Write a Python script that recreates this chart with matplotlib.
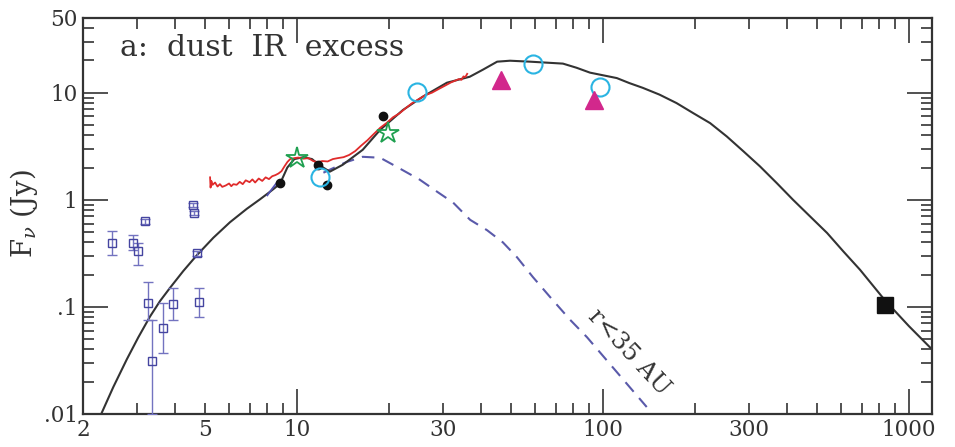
import numpy as np
import matplotlib
matplotlib.use('Agg')
import matplotlib.pyplot as plt
from matplotlib.ticker import LogLocator, FuncFormatter

plt.rcParams['font.family'] = ['DejaVu Serif']
plt.rcParams['mathtext.fontset'] = 'dejavuserif'

# model SED (black line)
model_wl = [2.2, 2.30, 2.51, 2.78, 3.03, 3.31, 3.57, 3.85, 4.25, 4.70, 5.33, 6.04, 6.85, 7.57,
            8.17, 8.8, 9.3, 9.8, 10.5, 11.2, 11.8, 12.8, 14.1, 16.4, 18.7, 22.2, 25.8, 30.9,
            36.7, 40.5, 45.1, 49.7, 57.7, 74, 82, 90.7, 111, 122, 135, 153, 174, 197, 224,
            254, 288, 326, 370, 418, 475, 540, 610, 692, 835, 1000, 1190]
model_fx = [0.0076, 0.0102, 0.0178, 0.0324, 0.0519, 0.0813, 0.1135, 0.151, 0.216, 0.302, 0.442,
            0.617, 0.822, 1.01, 1.19, 1.41, 2.0, 2.4, 2.5, 2.4, 2.12, 1.83, 2.12, 2.93, 4.5,
            6.9, 9.2, 12.4, 14.1, 16.4, 19.5, 19.9, 19.5, 18.7, 17.1, 15.4, 13.7, 12.3, 11.1,
            9.6, 8.0, 6.46, 5.2, 3.9, 2.83, 2.05, 1.43, 1.0, 0.70, 0.49, 0.33, 0.222, 0.115,
            0.066, 0.040]

# inner disk only model r<35 AU (dashed)
inner_wl = [12.2, 12.8, 14.5, 16.4, 18.7, 21.2, 25.2, 28.7, 32.4, 36.8, 41.8, 47.1, 52.4,
            59.0, 67.1, 78.0, 88.7, 139]
inner_fx = [1.79, 1.91, 2.25, 2.52, 2.47, 2.03, 1.54, 1.19, 0.94, 0.65, 0.52, 0.40, 0.29,
            0.19, 0.124, 0.076, 0.052, 0.0116]

# IRS spectrum (red)
irs_wl = [5.2, 5.22, 5.25, 5.3, 5.4, 5.5, 5.6, 5.7, 5.85, 6.0, 6.1, 6.2, 6.35, 6.5, 6.65,
          6.8, 7.0, 7.15, 7.3, 7.5, 7.7, 7.9, 8.1, 8.3, 8.5, 8.7, 8.9, 9.1, 9.3, 9.5, 9.8,
          10.1, 10.5, 10.9, 11.3, 11.7, 12.1, 12.6, 13.1, 13.6, 14.2, 14.8, 15.5, 16.2, 17.0,
          17.8, 18.7, 19.6, 20.6, 21.6, 22.7, 23.8, 25.0, 26.3, 27.6, 29.0, 30.4, 31.9, 33.0,
          33.8, 34.5, 35.0, 35.5, 36.0]
irs_fx = [1.62, 1.30, 1.50, 1.38, 1.45, 1.33, 1.40, 1.32, 1.36, 1.42, 1.34, 1.40, 1.38, 1.47,
          1.40, 1.52, 1.46, 1.55, 1.45, 1.58, 1.50, 1.62, 1.56, 1.66, 1.70, 1.76, 1.85, 2.05,
          2.25, 2.40, 2.45, 2.48, 2.42, 2.45, 2.30, 2.25, 2.30, 2.28, 2.40, 2.45, 2.50, 2.62,
          2.85, 3.20, 3.60, 4.10, 4.70, 5.20, 5.90, 6.40, 7.20, 8.00, 8.70, 9.50, 10.0, 10.8,
          11.6, 12.5, 13.0, 13.4, 13.2, 14.2, 14.0, 15.0]

# short blue spectral piece
blue_wl = [8.0, 8.3, 8.6]
blue_fx = [1.10, 1.27, 1.45]

# near-IR photometry with error bars (blue squares)
nir_wl = [2.48, 2.92, 3.03, 3.18, 3.26, 3.35, 3.66, 3.94, 4.56, 4.60, 4.70, 4.80]
nir_fx = [0.394, 0.394, 0.329, 0.627, 0.108, 0.031, 0.063, 0.107, 0.90, 0.75, 0.318, 0.112]
nir_lo = [0.306, 0.341, 0.247, 0.60, 0.0757, 0.0100, 0.037, 0.0757, 0.86, 0.72, 0.30, 0.081]
nir_hi = [0.506, 0.471, 0.397, 0.66, 0.172, 0.0757, 0.109, 0.151, 0.94, 0.79, 0.335, 0.151]

dot_wl = [8.8, 11.7, 12.5, 19.1]
dot_fx = [1.44, 2.12, 1.38, 6.1]

star_wl = [10.0, 19.8]
star_fx = [2.47, 4.2]

circ_wl = [11.9, 24.7, 59.0, 97.7]
circ_fx = [1.64, 10.2, 18.7, 11.4]

tri_wl = [46.4, 93.5]
tri_fx = [13.2, 8.6]

sq_wl = [835]
sq_fx = [0.104]

fig = plt.figure(figsize=(9.55, 4.47), dpi=100)
ax = fig.add_axes([0.087, 0.074, 0.889, 0.886])
ax.set_xscale('log')
ax.set_yscale('log')
ax.set_xlim(2, 1190)
ax.set_ylim(0.01, 50)

ax.plot(model_wl, model_fx, color='#333333', lw=1.5, zorder=3)
ax.plot(inner_wl, inner_fx, color='#5a5aaa', lw=1.5, dashes=(6, 4), zorder=2)
ax.plot(irs_wl, irs_fx, color='#e02b2b', lw=1.3, zorder=4)
ax.plot(blue_wl, blue_fx, color='#5050b0', lw=1.3, zorder=4)

yerr = [np.array(nir_fx) - np.array(nir_lo), np.array(nir_hi) - np.array(nir_fx)]
ax.errorbar(nir_wl, nir_fx, yerr=yerr, fmt='s', mfc='none', mec='#4545a0', ms=6, mew=1.0,
            ecolor='#7373c0', elinewidth=1.0, capsize=3.5, capthick=1.0, zorder=5)

ax.plot(dot_wl, dot_fx, 'o', color='#111111', ms=6, zorder=6)
ax.plot(star_wl, star_fx, '*', mfc='none', mec='#1fa050', ms=16, mew=1.3, zorder=6)
ax.plot(circ_wl, circ_fx, 'o', mfc='none', mec='#2ab4e2', ms=13, mew=1.5, zorder=6)
ax.plot(tri_wl, tri_fx, '^', color='#d2288c', ms=13, zorder=6)
ax.plot(sq_wl, sq_fx, 's', color='#111111', ms=11, zorder=6)

ax.text(0.044, 0.925, 'a:  dust  IR  excess', transform=ax.transAxes, fontsize=21.5,
        color='#333333', va='center', ha='left')
ax.text(121, 0.038, 'r<35 AU', fontsize=17.5, color='#333333', rotation=-47,
        ha='center', va='center', rotation_mode='anchor')
ax.set_ylabel(r'F$_\nu$ (Jy)', fontsize=20, color='#333333')
ax.yaxis.set_label_coords(-0.051, 0.505)

# ticks
xlab = {2: '2', 5: '5', 30: '30', 300: '300'}
ylab = {50: '50'}
ymaj = {0.01: '.01', 0.1: '.1', 1: '1', 10: '10'}
ax.xaxis.set_major_locator(LogLocator(base=10, subs=[1.0]))
ax.xaxis.set_minor_locator(LogLocator(base=10, subs=np.arange(2, 10)))
ax.xaxis.set_major_formatter(FuncFormatter(lambda v, p: '%d' % round(v)))
ax.xaxis.set_minor_formatter(FuncFormatter(lambda v, p: xlab.get(int(round(v)), '')))
ax.yaxis.set_major_locator(LogLocator(base=10, subs=[1.0]))
ax.yaxis.set_minor_locator(LogLocator(base=10, subs=np.arange(2, 10)))
ax.yaxis.set_major_formatter(FuncFormatter(lambda v, p: ymaj.get(round(v, 3), '')))
ax.yaxis.set_minor_formatter(FuncFormatter(lambda v, p: ylab.get(int(round(v)), '')))

ax.tick_params(which='both', direction='in', top=True, right=True, colors='#333333',
               labelsize=15.5, width=1.2, pad=4)
ax.tick_params(which='major', length=18)
ax.tick_params(which='minor', length=8)
for s in ax.spines.values():
    s.set_linewidth(1.6)
    s.set_color('#333333')

fig.savefig('out.png', dpi=100)
